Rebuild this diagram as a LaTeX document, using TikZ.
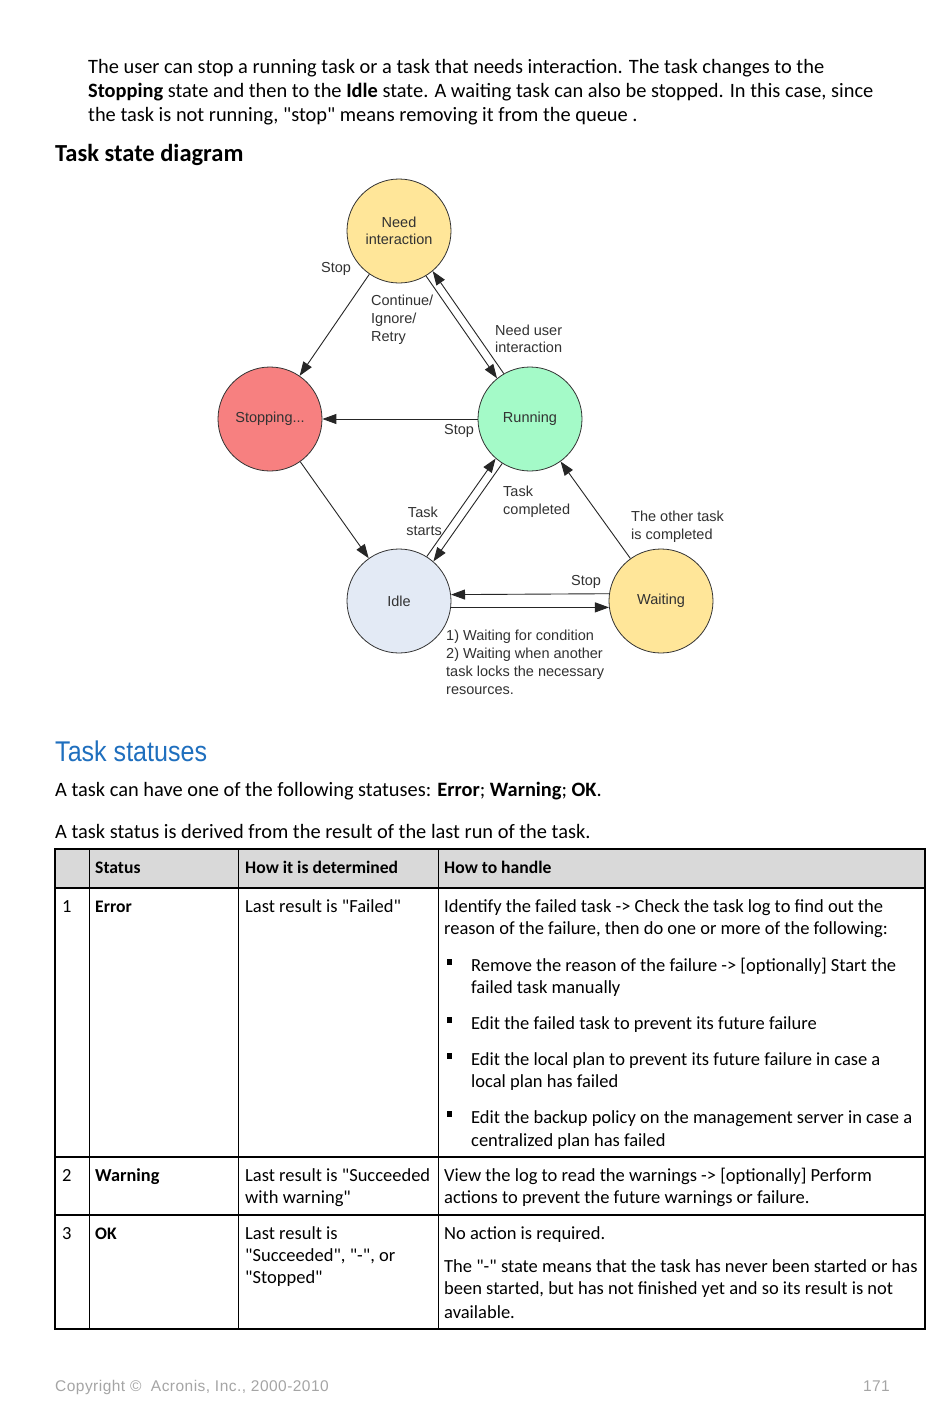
\documentclass[tikz,border=0pt]{standalone}
\usepackage{fontspec}
\setmainfont{Carlito}[Ligatures=TeXOff]
\newfontfamily\diagfont{Liberation Sans}
\newfontfamily\narrowfont[FakeStretch=0.88]{Liberation Sans}
\newfontfamily\footfont[LetterSpace=3]{Liberation Sans}
\usetikzlibrary{arrows.meta}
\definecolor{needc}{RGB}{255,230,153}
\definecolor{stopc}{RGB}{247,128,128}
\definecolor{runc}{RGB}{164,250,200}
\definecolor{idlec}{RGB}{227,234,245}
\definecolor{headblue}{RGB}{31,111,190}
\definecolor{hdrgray}{RGB}{217,217,217}
\definecolor{footgray}{RGB}{165,165,165}
\definecolor{dtext}{RGB}{50,50,50}
\tikzset{
  state/.style={circle, draw=black!80, line width=0.8pt, minimum size=104pt, inner sep=0pt,
    align=center, font=\diagfont\fontsize{14.5}{17}\selectfont, text=dtext},
  arr/.style={draw=black!85, line width=0.9pt, -{Triangle[length=14pt,width=10pt]}},
  dl/.style={inner sep=0pt, anchor=base west, font=\diagfont\fontsize{14.5}{17}\selectfont, text=dtext},
  pl/.style={inner sep=0pt, anchor=base west, font=\fontsize{20.4}{24}\selectfont},
  tl/.style={inner sep=0pt, anchor=base west, font=\fontsize{18.5}{22}\selectfont},
  th/.style={inner sep=0pt, anchor=base west, font=\bfseries\fontsize{17.6}{22}\selectfont},
  bul/.style={rectangle, fill=black, minimum width=5pt, minimum height=6pt, inner sep=0pt},
  outer/.style={line width=1.5pt, draw=black},
  inner/.style={line width=1pt, draw=black}
}
\begin{document}
\begin{tikzpicture}[x=1pt,y=-1pt]
\fill[white] (0,0) rectangle (950,1408);
\useasboundingbox (0,0) rectangle (950,1408);

% intro paragraph
\node[pl] (p1) at (88,73) {The user can stop a running task or a task that needs interaction. The task changes to the};
\node[pl] (p2) at (88,97) {\textbf{Stopping} state and then to the \textbf{Idle} state. A waiting task can also be stopped. In this case, since};
\node[pl] (p3) at (88,121) {the task is not running, "stop" means removing it from the queue .};
\node[pl, font=\bfseries\fontsize{24.5}{28}\selectfont] (h1) at (55,161) {Task state diagram};

% states
\node[state, fill=needc] (need) at (399,231) {Need\\interaction};
\node[state, fill=stopc] (stopn) at (270,419) {Stopping...};
\node[state, fill=runc] (run) at (530,419) {Running};
\node[state, fill=idlec] (idle) at (399,601) {Idle};
\node[state, fill=needc] (wait) at (661,601) {Waiting};

% transitions
\draw[arr] (need) -- (stopn);
\draw[arr] (run) -- (stopn);
\draw[arr] (stopn) -- (idle);
\draw[arr] (wait) -- (run);
\draw[arr] (need.-59.5) -- (run.129.3);
\draw[arr] (run.120.5) -- (need.-50.7);
\draw[arr] (idle.58.7) -- (run.229.9);
\draw[arr] (run.238.7) -- (idle.49.9);
\draw[arr] (wait.172.3) -- (idle.7.7);
\draw[arr] (idle.-7.7) -- (wait.187.7);

% transition labels
\node[dl, anchor=base] (s1) at (336,272) {Stop};
\node[dl] (c1) at (371,305) {Continue/};
\node[dl] (c2) at (371,323) {Ignore/};
\node[dl] (c3) at (371,341) {Retry};
\node[dl] (n1) at (495,335) {Need user};
\node[dl] (n2) at (495,352) {interaction};
\node[dl, anchor=base] (s2) at (459,434) {Stop};
\node[dl, anchor=base east] (t1) at (438,517) {Task};
\node[dl, anchor=base east] (t2) at (442,535) {starts};
\node[dl] (k1) at (503,496) {Task};
\node[dl] (k2) at (503,514) {completed};
\node[dl] (o1) at (631,521) {The other task};
\node[dl] (o2) at (631,539) {is completed};
\node[dl, anchor=base] (s3) at (586,585) {Stop};
\node[dl] (w1) at (446,640) {1) Waiting for condition};
\node[dl] (w2) at (446,658) {2) Waiting when another};
\node[dl] (w3) at (446,676) {task locks the necessary};
\node[dl] (w4) at (446,694) {resources.};

% Task statuses section
\node[pl, font=\narrowfont\fontsize{28.5}{32}\selectfont, text=headblue] (h2) at (55,761) {Task statuses};
\node[pl] (q1) at (55,796) {A task can have one of the following statuses: \textbf{Error}; \textbf{Warning}; \textbf{OK}.};
\node[pl] (q2) at (55,838) {A task status is derived from the result of the last run of the task.};

% table grid
\fill[hdrgray] (55,849) rectangle (925,888);
\draw[inner] (89,849) -- (89,1329);
\draw[inner] (238,849) -- (238,1329);
\draw[inner] (438,849) -- (438,1329);
\draw[outer] (55,888) -- (925,888);
\draw[outer] (55,1157) -- (925,1157);
\draw[outer] (55,1215) -- (925,1215);
\draw[outer] (55,849) rectangle (925,1329);

% header
\node[th] (th1) at (95,873) {Status};
\node[th] (th2) at (245,873) {How it is determined};
\node[th] (th3) at (444,873) {How to handle};

% row 1
\node[tl] (r1a) at (62,912) {1};
\node[th] (r1b) at (95,912) {Error};
\node[tl] (r1c) at (245,912) {Last result is "Failed"};
\node[tl] (r1d1) at (444,912) {Identify the failed task -> Check the task log to find out the};
\node[tl] (r1d2) at (444,934) {reason of the failure, then do one or more of the following:};
\node[bul] (b1) at (449.5,962) {};
\node[tl] (r1e1) at (471,971) {Remove the reason of the failure -> [optionally] Start the};
\node[tl] (r1e2) at (471,993) {failed task manually};
\node[bul] (b2) at (449.5,1020) {};
\node[tl] (r1f1) at (471,1029) {Edit the failed task to prevent its future failure};
\node[bul] (b3) at (449.5,1056) {};
\node[tl] (r1g1) at (471,1065) {Edit the local plan to prevent its future failure in case a};
\node[tl] (r1g2) at (471,1087) {local plan has failed};
\node[bul] (b4) at (449.5,1114) {};
\node[tl] (r1h1) at (471,1123) {Edit the backup policy on the management server in case a};
\node[tl] (r1h2) at (471,1146) {centralized plan has failed};

% row 2
\node[tl] (r2a) at (62,1181) {2};
\node[th, font=\bfseries\fontsize{18.3}{22}\selectfont] (r2b) at (95,1181) {Warning};
\node[tl] (r2c1) at (245,1181) {Last result is "Succeeded};
\node[tl] (r2c2) at (245,1203) {with warning"};
\node[tl] (r2d1) at (444,1181) {View the log to read the warnings -> [optionally] Perform};
\node[tl] (r2d2) at (444,1203) {actions to prevent the future warnings or failure.};

% row 3
\node[tl] (r3a) at (62,1239) {3};
\node[th] (r3b) at (95,1239) {OK};
\node[tl] (r3c1) at (245,1239) {Last result is};
\node[tl] (r3c2) at (245,1261) {"Succeeded", "-", or};
\node[tl] (r3c3) at (245,1283) {"Stopped"};
\node[tl] (r3d1) at (444,1239) {No action is required.};
\node[tl] (r3d2) at (444,1272) {The "-" state means that the task has never been started or has};
\node[tl] (r3d3) at (444,1294) {been started, but has not finished yet and so its result is not};
\node[tl] (r3d4) at (444,1318) {available.};

% footer
\node[tl, font=\footfont\fontsize{15.5}{18}\selectfont, text=footgray] (f1) at (55,1391) {Copyright © \ Acronis, Inc., 2000-2010};
\node[tl, anchor=base east, font=\footfont\fontsize{15.5}{18}\selectfont, text=footgray] (f2) at (890,1391) {171};
\end{tikzpicture}
\end{document}
